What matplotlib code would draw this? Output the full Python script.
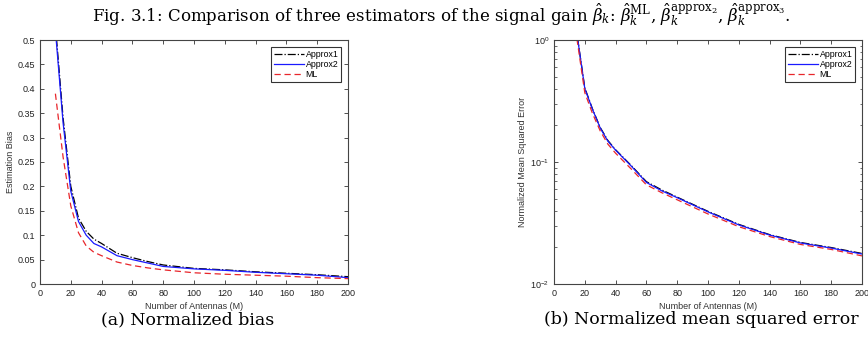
import matplotlib
matplotlib.use("Agg")
import matplotlib.pyplot as plt
from matplotlib.ticker import MultipleLocator, LogLocator, NullFormatter

# ---- data ----
M = [10, 15, 20, 25, 30, 35, 40, 50, 60, 70, 80, 100, 120, 140, 160, 180, 200]

bias_approx1 = [0.53, 0.34, 0.200, 0.135, 0.108, 0.092, 0.083, 0.063, 0.054, 0.046,
                0.039, 0.032, 0.029, 0.025, 0.022, 0.019, 0.015]
bias_approx2 = [0.52, 0.33, 0.190, 0.128, 0.100, 0.083, 0.076, 0.058, 0.050, 0.043,
                0.036, 0.031, 0.028, 0.024, 0.021, 0.018, 0.013]
bias_ml = [0.39, 0.26, 0.160, 0.105, 0.078, 0.065, 0.058, 0.045, 0.038, 0.033,
           0.029, 0.023, 0.020, 0.018, 0.016, 0.013, 0.011]

mse_approx1 = [3.0, 1.10, 0.405, 0.272, 0.192, 0.150, 0.126, 0.094, 0.069, 0.059,
               0.0515, 0.0394, 0.0308, 0.0254, 0.0219, 0.0199, 0.0178]
mse_approx2 = [3.0, 1.10, 0.400, 0.270, 0.190, 0.148, 0.125, 0.093, 0.068, 0.058,
               0.051, 0.039, 0.0305, 0.0252, 0.0217, 0.0197, 0.0176]
mse_ml = [2.8, 1.00, 0.370, 0.250, 0.180, 0.140, 0.118, 0.088, 0.065, 0.056,
          0.049, 0.0375, 0.0295, 0.0245, 0.0211, 0.0192, 0.0170]

series_labels = ["Approx1", "Approx2", "ML"]
xlabel = "Number of Antennas (M)"
ylabel_a = "Estimation Bias"
ylabel_b = "Normalized Mean Squared Error"
caption_a = "(a) Normalized bias"
caption_b = "(b) Normalized mean squared error"
title = (r"Fig. 3.1: Comparison of three estimators of the signal gain "
         r"$\hat{\beta}_k$: $\hat{\beta}_k^{\mathrm{ML}}$, "
         r"$\hat{\beta}_k^{\mathrm{approx}_2}$, $\hat{\beta}_k^{\mathrm{approx}_3}$.")

plt.rcParams["font.family"] = ["Liberation Sans", "DejaVu Sans"]
plt.rcParams["mathtext.fontset"] = "dejavuserif"

fig = plt.figure(figsize=(8.68, 3.48), dpi=100)
ax1 = fig.add_axes([40 / 868, 1 - 284 / 348, 308 / 868, 244 / 348])
ax2 = fig.add_axes([554 / 868, 1 - 284 / 348, 308 / 868, 244 / 348])

styles = [dict(color="black", ls="-.", lw=0.9),
          dict(color="#1a1aff", ls="-", lw=0.9),
          dict(color="#e8262b", ls=(0, (5, 3)), lw=0.9)]

for data, st, lab in zip([bias_approx1, bias_approx2, bias_ml], styles, series_labels):
    ax1.plot(M, data, label=lab, **st)
for data, st, lab in zip([mse_approx1, mse_approx2, mse_ml], styles, series_labels):
    ax2.plot(M, data, label=lab, **st)

ax1.set_xlim(0, 200)
ax1.set_ylim(0, 0.5)
ax1.xaxis.set_major_locator(MultipleLocator(20))
ax1.yaxis.set_major_locator(MultipleLocator(0.05))
ax1.set_yticklabels([("%g" % v) for v in ax1.get_yticks()])

ax2.set_yscale("log")
ax2.set_xlim(0, 200)
ax2.set_ylim(1e-2, 1e0)
ax2.xaxis.set_major_locator(MultipleLocator(20))
ax2.yaxis.set_major_locator(LogLocator(base=10, numticks=5))
ax2.yaxis.set_minor_locator(LogLocator(base=10, subs=range(2, 10), numticks=20))
ax2.yaxis.set_minor_formatter(NullFormatter())

for ax, yl in [(ax1, ylabel_a), (ax2, ylabel_b)]:
    ax.tick_params(which="both", direction="in", top=True, right=True,
                   labelsize=6.5, colors="#333333", labelcolor="#222222")
    ax.tick_params(which="major", length=3, width=0.6)
    ax.tick_params(which="minor", length=1.8, width=0.5)
    for s in ax.spines.values():
        s.set_linewidth(0.8)
        s.set_color("#444444")
    ax.set_xlabel(xlabel, fontsize=6.5, color="#333333", labelpad=3)
    ax.set_ylabel(yl, fontsize=6.5, color="#333333", labelpad=2)
    leg = ax.legend(loc="upper right", fontsize=6.3, frameon=True, fancybox=False,
                    edgecolor="black", handlelength=3.4, handletextpad=0.2,
                    borderpad=0.3, labelspacing=0.15, borderaxespad=0.8)
    leg.get_frame().set_linewidth(0.8)

fig.text(0.508, 0.958, title, ha="center", va="center", fontsize=12,
         family="DejaVu Serif")
fig.text(188 / 868, 1 - 320 / 348, caption_a, ha="center", va="center", fontsize=12.5,
         family="DejaVu Serif")
fig.text(701 / 868, 1 - 320 / 348, caption_b, ha="center", va="center", fontsize=12.5,
         family="DejaVu Serif")

fig.savefig("out.png", dpi=100)
